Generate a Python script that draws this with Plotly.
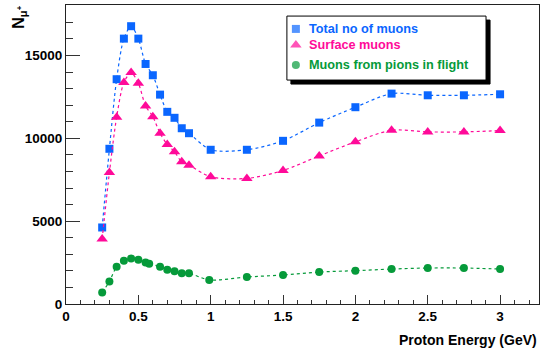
import plotly.graph_objects as go

# Proton beam energy (GeV) and muon yields
energy = [0.25, 0.30, 0.35, 0.40, 0.45, 0.50, 0.55, 0.60, 0.65, 0.70, 0.75,
          0.80, 0.85, 1.00, 1.25, 1.50, 1.75, 2.00, 2.25, 2.50, 2.75, 3.00]
total_muons = [4620, 9370, 13570, 16020, 16770, 16020, 14490, 13810, 12640, 11600, 11240,
               10610, 10310, 9310, 9310, 9850, 10950, 11880, 12700, 12600, 12600, 12660]
surface_muons = [3920, 7940, 11280, 13370, 13970, 13330, 11960, 11310, 10310, 9630, 9190,
                 8580, 8380, 7680, 7580, 8060, 8940, 9790, 10490, 10390, 10390, 10470]
energy_flight = [0.25, 0.30, 0.35, 0.40, 0.45, 0.50, 0.55, 0.575, 0.65, 0.70, 0.75,
                 0.80, 0.85, 0.99, 1.25, 1.50, 1.75, 2.00, 2.25, 2.50, 2.75, 3.00]
flight_muons = [700, 1360, 2250, 2610, 2750, 2670, 2510, 2430, 2250, 2070, 1980,
                1860, 1860, 1450, 1630, 1750, 1930, 2010, 2110, 2170, 2170, 2110]

series_names = ["Total no of muons", "Surface muons", "Muons from pions in flight"]
series_colors = ["#0a66ff", "#ff0a99", "#069a3a"]
series_symbols = ["square", "triangle-up", "circle"]
series_sizes = [8, 10, 8]

y_ticks = [0, 5000, 10000, 15000]
y_tick_text = ["0", "5000", "10000", "15000"]
x_ticks = [0, 0.5, 1, 1.5, 2, 2.5, 3]
x_tick_text = ["0", "0.5", "1", "1.5", "2", "2.5", "3"]

FONT = "Liberation Sans, Arial, Helvetica, sans-serif"

fig = go.Figure()

xs = [energy, energy, energy_flight]
ys = [total_muons, surface_muons, flight_muons]
for x, y, name, col, sym, size in zip(xs, ys, series_names, series_colors,
                                      series_symbols, series_sizes):
    fig.add_trace(go.Scatter(
        x=x, y=y, name=name, mode="lines+markers",
        line=dict(color=col, width=1.2, dash="dot", shape="spline", smoothing=0.8),
        marker=dict(symbol=sym, size=size, color=col, line=dict(width=0)),
        showlegend=False,
    ))

# Key box: shadow, frame, symbols and labels
box_left, box_right, box_top, box_bottom = 0.467, 0.888, 0.963, 0.749
shadow_dx, shadow_dy = 0.0085, 0.0134
fig.add_shape(type="rect", xref="paper", yref="paper", layer="below",
              x0=box_left + shadow_dx, x1=box_right + shadow_dx,
              y0=box_bottom - shadow_dy, y1=box_top - shadow_dy,
              fillcolor="black", line=dict(color="black", width=1))
fig.add_shape(type="rect", xref="paper", yref="paper", layer="below",
              x0=box_left, x1=box_right, y0=box_bottom, y1=box_top,
              fillcolor="white", line=dict(color="black", width=1))

key_rows = [0.920, 0.866, 0.799]
key_symbol_x = 0.486
key_text_x = 0.5095
fig.add_trace(go.Scatter(
    x=[key_symbol_x] * 3, y=key_rows, mode="markers", xaxis="x2", yaxis="y2",
    marker=dict(symbol=series_symbols, size=series_sizes, color=series_colors,
                line=dict(width=0)),
    showlegend=False, hoverinfo="skip",
))
for row, name, col in zip(key_rows, series_names, series_colors):
    fig.add_annotation(xref="paper", yref="paper", x=key_text_x, y=row,
                       xanchor="left", yanchor="middle", showarrow=False,
                       text="<b>%s</b>" % name,
                       font=dict(family=FONT, size=12.7, color=col))

# Axis titles
fig.add_annotation(xref="paper", yref="paper", x=1.0, y=-0.12,
                   xanchor="right", yanchor="middle", showarrow=False,
                   text="<b>Proton Energy (GeV)</b>",
                   font=dict(family=FONT, size=14, color="black"))
fig.add_annotation(xref="paper", yref="paper", x=-0.1, y=1.005,
                   xanchor="center", yanchor="top", showarrow=False,
                   textangle=-90,
                   text="<b>N<sub>μ<sup>+</sup></sub></b>",
                   font=dict(family=FONT, size=16, color="black"))

tick_font = dict(family=FONT, size=13.5, color="black", weight="bold")

fig.update_layout(
    width=541, height=351,
    margin=dict(l=66, r=2, t=5, b=47),
    paper_bgcolor="white", plot_bgcolor="white",
    xaxis=dict(
        range=[0, 3.269], tickvals=x_ticks, ticktext=x_tick_text,
        ticks="inside", ticklen=9, tickwidth=1, tickcolor="#333",
        minor=dict(dtick=0.1, ticks="inside", ticklen=4.5, tickwidth=1, tickcolor="#333"),
        showline=True, linecolor="#222", linewidth=1, mirror=True,
        showgrid=False, zeroline=False, tickfont=tick_font,
    ),
    yaxis=dict(
        range=[0, 18050], tickvals=y_ticks, ticktext=y_tick_text,
        ticks="inside", ticklen=14, tickwidth=1, tickcolor="#333",
        minor=dict(dtick=1000, ticks="inside", ticklen=7, tickwidth=1, tickcolor="#333"),
        showline=True, linecolor="#222", linewidth=1, mirror=True,
        showgrid=False, zeroline=False, tickfont=tick_font,
    ),
    xaxis2=dict(overlaying="x", range=[0, 1], visible=False, anchor="y2"),
    yaxis2=dict(overlaying="y", range=[0, 1], visible=False, anchor="x2"),
)

fig.write_html("out.html")
